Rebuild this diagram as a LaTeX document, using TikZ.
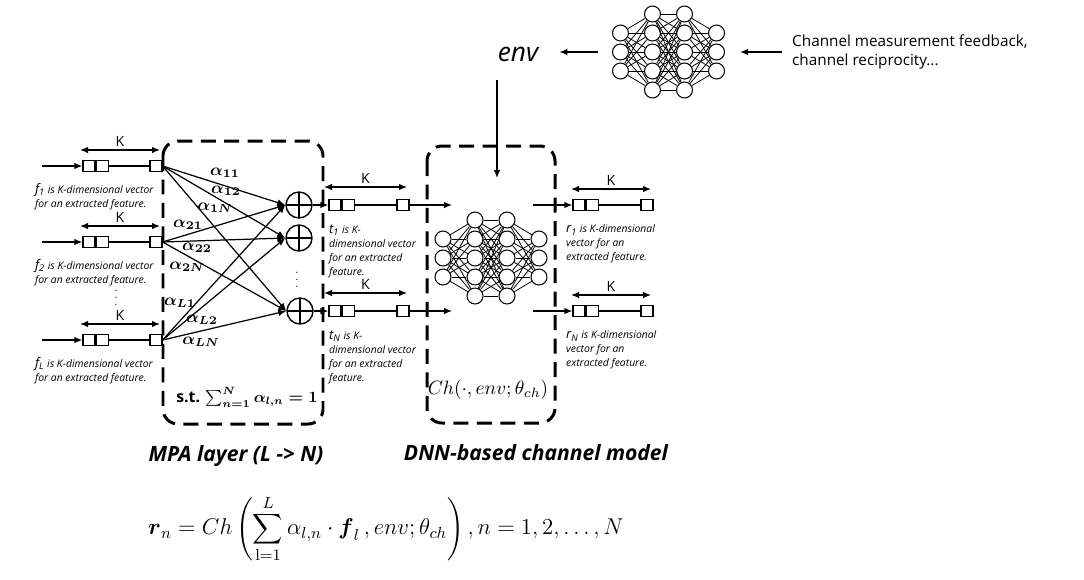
\documentclass[tikz,border=0pt]{standalone}
\usepackage{fix-cm}
\usepackage{amsmath}
\usepackage{fontspec}
\setsansfont{Open Sans}
\usetikzlibrary{arrows.meta,calc,positioning}

\begin{document}
\begin{tikzpicture}[
    x=0.02cm,
    y=-0.02cm,
    font=\sffamily,
    >={Latex[length=1.6mm,width=1.3mm]},
    wire/.style={draw, line width=0.7pt},
    cell/.style={draw, line width=0.7pt, fill=white, minimum width=0.24cm, minimum height=0.22cm, inner sep=0pt},
    kspan/.style={line width=0.7pt, <->},
    klabel/.style={font=\sffamily\fontsize{8}{9}\selectfont, inner sep=1.5pt},
    note/.style={
        anchor=north west,
        align=left,
        inner sep=1pt,
        font=\sffamily\itshape\fontsize{5.9}{7.9}\selectfont
    },
    adder/.style={
        circle,
        draw,
        line width=0.8pt,
        minimum size=0.52cm,
        inner sep=0pt,
        path picture={
            \draw[line width=0.8pt]
                (path picture bounding box.north) -- (path picture bounding box.south)
                (path picture bounding box.west) -- (path picture bounding box.east);
        }
    },
    vdots/.style={inner sep=0pt, font=\fontsize{6}{7}\selectfont},
    weight/.style={inner sep=0pt, font=\fontsize{9.5}{10}\selectfont},
    modelbox/.style={draw, line width=1.7pt, dash pattern=on 0.3cm off 0.17cm, rounded corners=0.3cm},
    neuron/.style={circle, draw, line width=0.6pt, fill=white, minimum size=0.32cm, inner sep=0pt},
    synapse/.style={line width=0.45pt},
    blocktitle/.style={font=\sffamily\bfseries\itshape\fontsize{12}{14}\selectfont}
]

\path[use as bounding box, fill=white] (0,0) rectangle (1084,579);

% Input feature vectors f_1 ... f_L.
\foreach \r/\y in {1/166, 2/242, L/340} {
    \coordinate (in\r) at (42,\y);
    \node[cell] (f\r-a) at (89,\y) {};
    \node[cell, right=0pt of f\r-a] (f\r-b) {};
    \node[cell] (f\r) at (156,\y) {};
    \draw[wire, ->] (in\r) -- (f\r-a);
    \draw[wire] (f\r-b) -- (f\r);
    \coordinate (fkl\r) at (80,\y-16);
    \coordinate (fkr\r) at (160,\y-16);
    \draw[kspan] (fkl\r) -- (fkr\r) node[klabel, midway, above] {K};
    \node[note] (fnote\r) at (33,\y+15)
        {{\fontsize{7.5}{8}\selectfont\textit{f}\textsubscript{\r}} is K-dimensional vector\\for an extracted feature.};
}
\node[vdots] (fdots) at (116,293) {$\vdots$};

% MPA layer.
\draw[modelbox] (163,141) rectangle (323,424);
\node[adder] (s1) at (299,205) {};
\node[adder] (s2) at (299,238) {};
\node[adder] (sN) at (300,311) {};
\node[vdots] (sdots) at (297,275) {$\vdots$};
\foreach \i in {1,2,L} {
    \foreach \j in {1,2,N} {
        \draw[wire, ->] (f\i.east) -- (s\j.west);
    }
}
\foreach \nm/\x/\y/\sub in {
    w11/225/173/11, w12/226/191/12, w1N/215/208/1N,
    w21/188/225/21, w22/197/248/22, w2N/187/267/2N,
    wL1/180/303/L1, wL2/202/320/L2, wLN/201/342/LN
} {
    \node[weight] (\nm) at (\x,\y) {$\boldsymbol{\alpha_{\sub}}$};
}
\node[font=\sffamily\bfseries\fontsize{9}{11}\selectfont] (constraint) at (247,397)
    {s.t. $\boldsymbol{\sum_{n=1}^{N}\alpha_{l,n}=1}$};

% Aggregated vectors t_1 ... t_N.
\foreach \r/\y in {1/205, N/311} {
    \node[cell] (t\r-a) at (335,\y) {};
    \node[cell, right=0pt of t\r-a] (t\r-b) {};
    \node[cell] (t\r) at (403,\y) {};
    \coordinate (nin\r) at (452,\y);
    \draw[wire, ->] (s\r.east) -- (t\r-a);
    \draw[wire] (t\r-b) -- (t\r);
    \draw[wire, ->] (t\r) -- (nin\r);
    \coordinate (tkl\r) at (324,\y-18);
    \coordinate (tkr\r) at (407,\y-18);
    \draw[kspan] (tkl\r) -- (tkr\r) node[klabel, midway, above] {K};
    \node[note] (tnote\r) at (327,\y+18)
        {{\fontsize{7.5}{8}\selectfont\textit{t}\textsubscript{\r}} is K-\\dimensional vector\\for an extracted\\feature.};
}

% DNN-based channel model.
\draw[modelbox] (427,146) rectangle (555,423);
\node[font=\fontsize{11}{13}\selectfont] (chfun) at (488,390) {$Ch(\cdot,env;\theta_{ch})$};

% Two small fully connected nets.
\foreach \nn/\cx/\cy in {top/668.5/52, dnn/491/258} {
    \foreach \l/\n in {1/3, 2/5, 3/5, 4/3} {
        \foreach \k in {1,...,\n} {
            \node[neuron] (\nn-\l-\k) at ({\cx+(\l-2.5)*32},{\cy+(\k-(\n+1)/2)*19}) {};
        }
    }
    \foreach \l/\na/\m/\nb in {1/3/2/5, 2/5/3/5, 3/5/4/3} {
        \foreach \a in {1,...,\na} {
            \foreach \b in {1,...,\nb} {
                \draw[synapse] (\nn-\l-\a) -- (\nn-\m-\b);
            }
        }
    }
}

% Output vectors r_1 ... r_N.
\foreach \r/\y in {1/205, N/311} {
    \coordinate (nout\r) at (533,\y);
    \node[cell] (r\r-a) at (579,\y) {};
    \node[cell, right=0pt of r\r-a] (r\r-b) {};
    \node[cell] (r\r) at (647,\y) {};
    \draw[wire, ->] (nout\r) -- (r\r-a);
    \draw[wire] (r\r-b) -- (r\r);
    \coordinate (rkl\r) at (571,\y-16);
    \coordinate (rkr\r) at (651,\y-16);
    \draw[kspan] (rkl\r) -- (rkr\r) node[klabel, midway, above] {K};
    \node[note] (rnote\r) at (564,\y+18)
        {{\fontsize{7.5}{8}\selectfont\textit{r}\textsubscript{\r}} is K-dimensional\\vector for an\\extracted feature.};
}

% Environment information.
\node[font=\sffamily\itshape\fontsize{15}{18}\selectfont] (env) at (518,54) {env};
\coordinate (envtop) at (497,80);
\coordinate (envin) at (497,178);
\draw[wire, ->] (envtop) -- (envin);
\draw[wire, ->, shorten <=0.28cm, shorten >=0.3cm] (top-1-2.west) -- (top-1-2.west -| env.east);
\node[anchor=west, align=left, font=\sffamily\fontsize{8.7}{10.8}\selectfont] (feedback) at (786,52)
    {Channel measurement feedback,\\channel reciprocity...};
\draw[wire, ->, shorten <=0.08cm, shorten >=0.3cm] (feedback.west) -- (top-4-2.east);

% Titles and the model equation.
\node[blocktitle] (mpatitle) at (236,456) {MPA layer (L -> N)};
\node[blocktitle] (dnntitle) at (536,453) {DNN-based channel model};
\node[font=\fontsize{13}{16}\selectfont] (formula) at (386,529)
    {$\displaystyle \boldsymbol{r}_n = Ch\left(\sum_{\mathrm{l}=1}^{L}\alpha_{l,n}\cdot\boldsymbol{f}_l\,,env;\theta_{ch}\right),n=1,2,\ldots,N$};

\end{tikzpicture}
\end{document}
